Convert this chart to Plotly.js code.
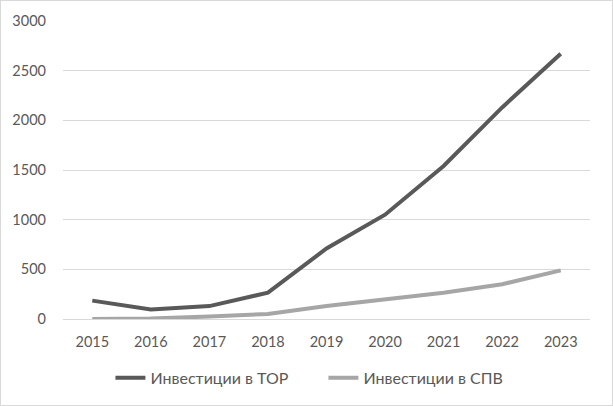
<!DOCTYPE html>
<html>
<head>
<meta charset="utf-8">
<script src="https://cdn.plot.ly/plotly-3.0.1.min.js"></script>
<style>
html,body{margin:0;padding:0;background:#fff;}
#chart{width:613px;height:406px;box-sizing:border-box;border:1px solid #d9d9d9;}
</style>
</head>
<body>
<div id="chart"></div>
<script>
const years = ['2015','2016','2017','2018','2019','2020','2021','2022','2023'];
const torValues = [185, 95, 130, 265, 710, 1050, 1540, 2130, 2670];
const spvValues = [0, 5, 25, 50, 130, 195, 265, 350, 490];
const seriesNames = ['Инвестиции в ТОР', 'Инвестиции в СПВ'];
const yTicks = [0, 500, 1000, 1500, 2000, 2500, 3000];

const font = {family: 'Lato, "Liberation Sans", sans-serif', size: 14.5, color: '#595959'};
const legendFont = {family: 'Lato, "Liberation Sans", sans-serif', size: 16, color: '#595959'};

const data = [
  {x: years, y: torValues, name: seriesNames[0], type: 'scatter', mode: 'lines',
   line: {color: '#595959', width: 4}},
  {x: years, y: spvValues, name: seriesNames[1], type: 'scatter', mode: 'lines',
   line: {color: '#a6a6a6', width: 4}}
];

const layout = {
  width: 611, height: 404,
  margin: {l: 62, r: 22, t: 20, b: 86, autoexpand: false},
  paper_bgcolor: '#ffffff', plot_bgcolor: '#ffffff',
  font: font,
  showlegend: true,
  legend: {orientation: 'h', x: 0.09, xanchor: 'left', xref: 'paper',
           y: 0.067, yanchor: 'middle', yref: 'container',
           font: legendFont, tracegroupgap: 0, entrywidth: 168, entrywidthmode: 'pixels'},
  xaxis: {type: 'category', range: [-0.5, 8.5], showgrid: false, zeroline: false, showline: false,
          ticks: '', tickfont: font, ticklabelstandoff: 12},
  yaxis: {range: [0, 3000], tickvals: yTicks, showgrid: true, gridcolor: '#d9d9d9',
          gridwidth: 1, zeroline: true, zerolinecolor: '#d9d9d9', zerolinewidth: 1,
          showline: false, ticks: '', tickfont: font, ticklabelstandoff: 16}
};

Plotly.newPlot('chart', data, layout, {staticPlot: true, displayModeBar: false});
</script>
</body>
</html>
